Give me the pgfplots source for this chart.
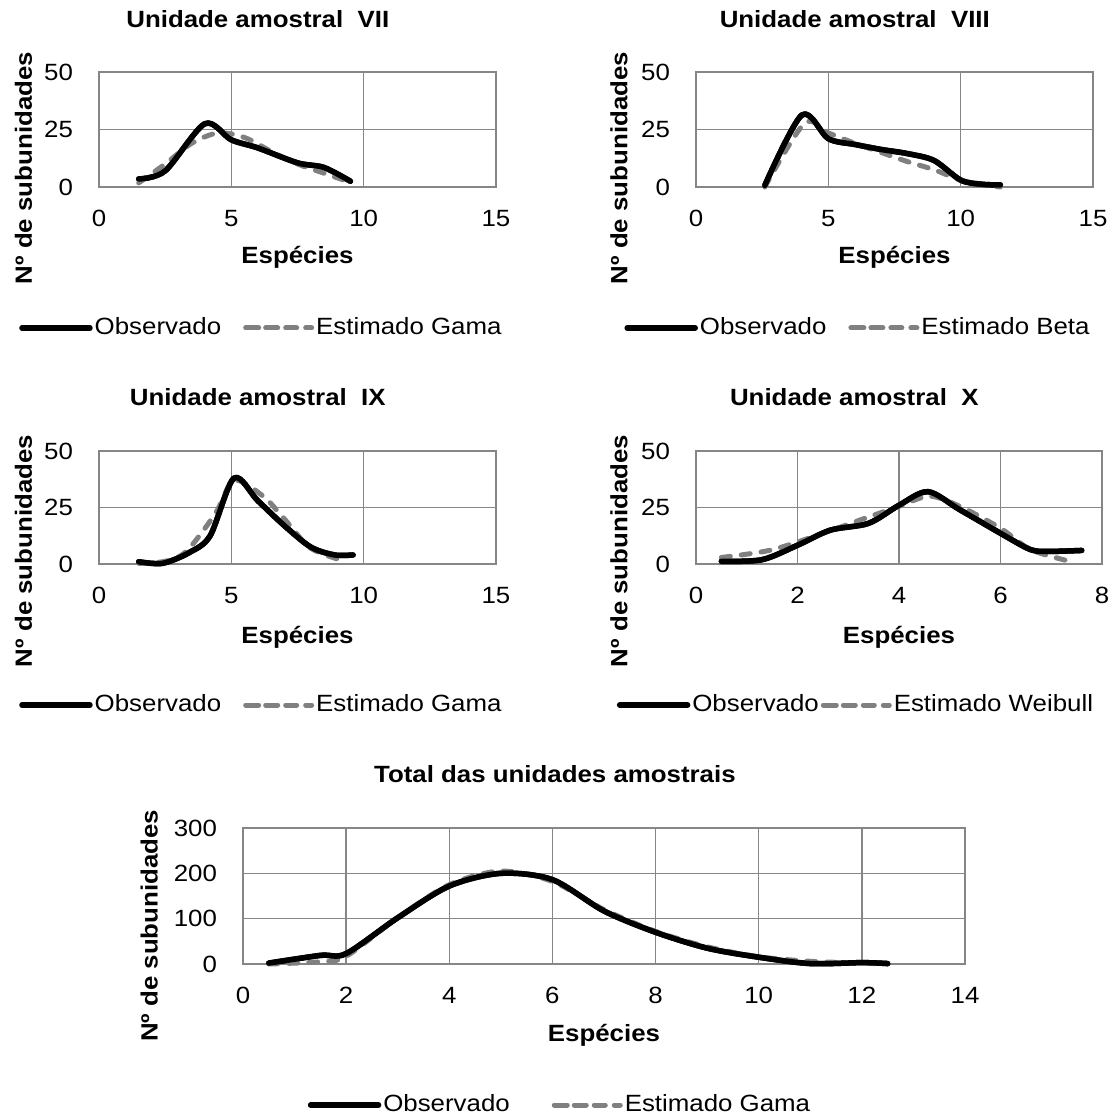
\documentclass[border=0pt]{standalone}
\usepackage{fontspec}
\setmainfont{Liberation Sans}[FakeStretch=1.1]
\usepackage{pgfplots}
\pgfplotsset{compat=1.18}
\definecolor{gridgray}{RGB}{134,134,134}
\definecolor{estgray}{RGB}{128,128,128}

\pgfplotsset{
  panel/.style={
    scale only axis,
    clip=false,
    ymin=0,
    grid=major,
    grid style={gridgray, line width=1.3pt},
    axis line style={gridgray, line width=1.3pt},
    major tick length=0pt,
    /pgf/number format/assume math mode=true,
    yticklabel style={xshift=-18pt},
    xticklabel style={yshift=-15pt},
    xlabel={\bfseries Espécies},
    ylabel={\bfseries Nº de subunidades},
    title style={font=\bfseries, anchor=center},
    xlabel style={anchor=center},
    ylabel style={anchor=center},
    legend columns=2,
    legend style={draw=none, fill=none, anchor=center,
      /tikz/every even column/.style={column sep=20pt}},
  },
  obs/.style={black, line width=5.5pt, smooth, line cap=round, line join=round,
    legend image code/.code={\draw[##1] (0pt,0pt) -- (68pt,0pt);}},
  est/.style={estgray, line width=5pt, smooth, line cap=round,
    dash pattern=on 9pt off 11pt,
    legend image code/.code={\path (0pt,0pt) -- (66pt,0pt);
      \draw[##1, solid] (5pt,0pt) -- (13pt,0pt) (24pt,0pt) -- (32pt,0pt)
        (43pt,0pt) -- (51pt,0pt);}},
}

\begin{document}
\fontsize{23.5}{28}\selectfont
\begin{tikzpicture}
\path[use as bounding box] (0,0) rectangle (1117pt,-1115pt);

% --- Unidade amostral VII
\begin{axis}[panel, at={(99pt,-72pt)}, anchor=north west,
  width=397pt, height=115pt,
  xmin=0, xmax=15, xtick={0,5,10,15}, ymax=50, ytick={0,25,50},
  title={Unidade amostral\ \ VII},
  title style={at={(axis description cs:0.40,1.409)}},
  ylabel style={at={(axis description cs:-0.19,0.165)}},
  xlabel style={at={(axis description cs:0.5,-0.61)}},
  legend style={at={(axis description cs:0.409,-1.226)}}]
\addplot[obs] coordinates {(1.5,3.5) (2.5,7) (4,27.5) (5,20.5) (6,17) (7.5,10.5) (8.5,8.5) (9.5,2.5)};
\addlegendentry{Observado}
\addplot[est] coordinates {(1.5,1.8) (2.5,10) (3.5,19) (4.5,23.5) (5.5,21.5) (6.5,15.5) (7.5,10) (8.5,6) (9.5,2)};
\addlegendentry{Estimado Gama}
\addplot[obs, forget plot] coordinates {(1.5,3.5) (2.5,7) (4,27.5) (5,20.5) (6,17) (7.5,10.5) (8.5,8.5) (9.5,2.5)};
\end{axis}

% --- Unidade amostral VIII
\begin{axis}[panel, at={(696pt,-72pt)}, anchor=north west,
  width=397pt, height=115pt,
  xmin=0, xmax=15, xtick={0,5,10,15}, ymax=50, ytick={0,25,50},
  title={Unidade amostral\ \ VIII},
  title style={at={(axis description cs:0.40,1.409)}},
  ylabel style={at={(axis description cs:-0.194,0.165)}},
  xlabel style={at={(axis description cs:0.5,-0.61)}},
  legend style={at={(axis description cs:0.408,-1.226)}}]
\addplot[obs] coordinates {(2.6,0.7) (4,31.3) (5,21) (6,18.5) (7,16.3) (8,14.5) (9,11.5) (10,3) (10.8,1.2) (11.5,0.9)};
\addlegendentry{Observado}
\addplot[est] coordinates {(2.6,0) (4.1,27.7) (5,23.5) (6,19) (7,15) (8,11) (9,7.5) (10,3) (11,0.8) (11.5,0)};
\addlegendentry{Estimado Beta}
\addplot[obs, forget plot] coordinates {(2.6,0.7) (4,31.3) (5,21) (6,18.5) (7,16.3) (8,14.5) (9,11.5) (10,3) (10.8,1.2) (11.5,0.9)};
\end{axis}

% --- Unidade amostral IX
\begin{axis}[panel, at={(99pt,-451pt)}, anchor=north west,
  width=397pt, height=113pt,
  xmin=0, xmax=15, xtick={0,5,10,15}, ymax=50, ytick={0,25,50},
  title={Unidade amostral\ \ IX},
  title style={at={(axis description cs:0.40,1.425)}},
  ylabel style={at={(axis description cs:-0.19,0.115)}},
  xlabel style={at={(axis description cs:0.5,-0.646)}},
  legend style={at={(axis description cs:0.409,-1.248)}}]
\addplot[obs] coordinates {(1.5,1) (2.4,0.3) (3.4,5) (4.2,12.5) (5.1,38) (6,28) (7,17) (8,7.5) (8.9,4) (9.6,4)};
\addlegendentry{Observado}
\addplot[est] coordinates {(1.5,0.3) (2.5,1.2) (3.3,5.6) (4.4,22.4) (5.1,37) (6.2,30) (7,20) (8,7) (9.3,1.2)};
\addlegendentry{Estimado Gama}
\addplot[obs, forget plot] coordinates {(1.5,1) (2.4,0.3) (3.4,5) (4.2,12.5) (5.1,38) (6,28) (7,17) (8,7.5) (8.9,4) (9.6,4)};
\end{axis}

% --- Unidade amostral X
\begin{axis}[panel, at={(696pt,-451pt)}, anchor=north west,
  width=406pt, height=113pt,
  xmin=0, xmax=8, xtick={0,2,4,6,8}, ymax=50, ytick={0,25,50},
  title={Unidade amostral\ \ X},
  title style={at={(axis description cs:0.39,1.425)}},
  ylabel style={at={(axis description cs:-0.19,0.115)}},
  xlabel style={at={(axis description cs:0.5,-0.646)}},
  legend style={at={(axis description cs:0.394,-1.248)},
    /tikz/every even column/.style={column sep=0pt}}]
\addplot[obs] coordinates {(0.5,1.2) (1.3,1.9) (2,8.3) (2.65,15) (3.4,18) (4,26) (4.57,32) (5.2,24) (6,13.6) (6.6,6.3) (7,5.6) (7.6,6)};
\addlegendentry{Observado}
\addplot[est] coordinates {(0.5,2.9) (1.5,6.3) (2.6,14.4) (3.3,20) (4,25.5) (4.6,30) (5.2,25.5) (6,15.8) (6.6,6.3) (7.4,1)};
\addlegendentry{Estimado Weibull}
\addplot[obs, forget plot] coordinates {(0.5,1.2) (1.3,1.9) (2,8.3) (2.65,15) (3.4,18) (4,26) (4.57,32) (5.2,24) (6,13.6) (6.6,6.3) (7,5.6) (7.6,6)};
\end{axis}

% --- Total das unidades amostrais
\begin{axis}[panel, at={(243pt,-828pt)}, anchor=north west,
  width=722pt, height=136pt,
  xmin=0, xmax=14, xtick={0,2,...,14}, ymax=300, ytick={0,100,200,300},
  title={Total das unidades amostrais},
  title style={at={(axis description cs:0.432,1.353)}},
  ylabel style={at={(axis description cs:-0.13,0.28)}},
  xlabel style={at={(axis description cs:0.5,-0.522)}},
  legend style={at={(axis description cs:0.439,-1.037)},
    /tikz/every even column/.style={column sep=40pt}}]
\addplot[obs] coordinates {(0.5,2) (1.5,19) (2,23) (3,102) (4,172) (5,200) (6,186) (7,117) (8,70) (9,35) (10,15) (11,1) (12,3) (12.5,1)};
\addlegendentry{Observado}
\addplot[est] coordinates {(0.5,0) (1.5,5) (2,17) (3,102) (4,175) (5,205) (6,182) (7,120) (8,72) (9,38) (10,16) (11,6) (12,2) (12.5,0)};
\addlegendentry{Estimado Gama}
\addplot[obs, forget plot] coordinates {(0.5,2) (1.5,19) (2,23) (3,102) (4,172) (5,200) (6,186) (7,117) (8,70) (9,35) (10,15) (11,1) (12,3) (12.5,1)};
\end{axis}
\end{tikzpicture}
\end{document}
